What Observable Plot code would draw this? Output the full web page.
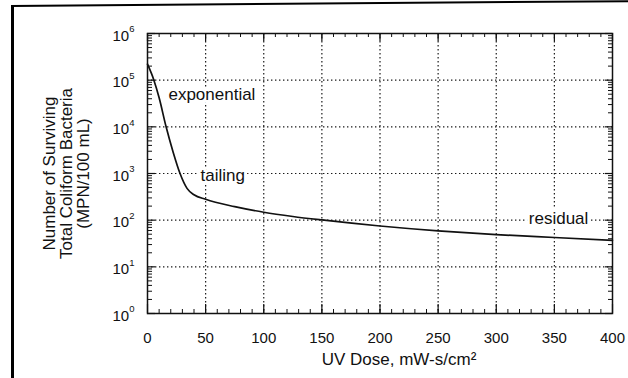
<!DOCTYPE html>
<html>
<head>
<meta charset="utf-8">
<script src="https://cdn.jsdelivr.net/npm/d3@7"></script>
<script src="https://cdn.jsdelivr.net/npm/@observablehq/plot@0.6"></script>
<style>
  body { margin: 0; background: #fff; }
  #wrap { position: relative; width: 628px; height: 378px; overflow: hidden; background: #fff; }
  #wrap svg { position: absolute; left: 0; top: 0; }
  .fl { position: absolute; left: 11px; top: 5px; width: 3px; height: 373px; background: #000; z-index: 2; }
  .ft { position: absolute; left: 11px; top: 5px; width: 620px; height: 2px; background: #000; z-index: 2;
        transform-origin: 0 0; transform: rotate(-0.45deg); }
</style>
</head>
<body>
<div id="wrap"><div class="fl"></div><div class="ft"></div></div>
<script>
// ---- data ----
const doses  = [0, 5.5, 10, 16, 22, 28, 34, 40, 50, 75, 100, 125, 150, 200, 250, 300, 350, 400];
const counts = [220000, 100000, 42000, 10000, 2900, 1000, 480, 350, 280, 195, 148, 120, 101, 75, 59, 49, 42.5, 37];

const xTicks = [0, 50, 100, 150, 200, 250, 300, 350, 400];
const yTicks = [1, 10, 100, 1000, 10000, 100000, 1000000];

const phaseLabels = ["exponential", "tailing", "residual"];
const labelDose   = [18, 45.6, 328];
const labelCount  = [48000, 885, 106];

const xTitle = "UV Dose, mW-s/cm\u00B2";
const yTitleLines = ["Number of Surviving", "Total Coliform Bacteria", "(MPN/100 mL)"];

// ---- derived tables ----
const curve = doses.map((d, i) => ({dose: d, count: counts[i]}));
const xMinor = d3.range(xTicks[0], xTicks[xTicks.length - 1] + 1, 10);
const yMinor = [];
yTicks.slice(0, -1).forEach(t => { for (let k = 2; k <= 9; k++) yMinor.push(t * k); });

const W = 628, H = 378, ML = 147, MR = 16, MT = 33, MB = 65;
const FW = W - ML - MR, FH = H - MT - MB;
const ink = "#111";
const gridStyle = {stroke: "#000", strokeWidth: 1.2, strokeDasharray: "1.4,2.6", strokeOpacity: 0.9};

const yTitleMarks = yTitleLines.map((line, i) =>
  Plot.text([line], {text: d => d, frameAnchor: "left", dx: -98 + 17 * i, rotate: -90,
    textAnchor: "middle", fontSize: 17, fill: ink}));

const chart = Plot.plot({
  width: W, height: H,
  marginLeft: ML, marginRight: MR, marginTop: MT, marginBottom: MB,
  style: {fontFamily: "'Liberation Sans', Arial, Helvetica, sans-serif", fontSize: "15px", color: ink, background: "transparent"},
  x: {domain: [0, 400], ticks: xTicks, tickSize: 0, tickPadding: 19, label: null},
  y: {type: "log", domain: [1, 1e6], ticks: yTicks, tickSize: 0, tickPadding: 13, label: null,
      tickFormat: d => "10^" + Math.round(Math.log10(d))},
  marks: [
    Plot.ruleX(xTicks.slice(1, -1), {x: d => d, ...gridStyle}),
    Plot.ruleY(yTicks.slice(1, -1), {y: d => d, ...gridStyle}),
    // inward ticks: bottom & top
    Plot.ruleX(xMinor, {x: d => d, insetTop: FH - 4, stroke: ink}),
    Plot.ruleX(xMinor, {x: d => d, insetBottom: FH - 4, stroke: ink}),
    Plot.ruleX(xTicks, {x: d => d, insetTop: FH - 9, stroke: ink, strokeWidth: 1.2}),
    Plot.ruleX(xTicks, {x: d => d, insetBottom: FH - 8, stroke: ink, strokeWidth: 1.2}),
    // inward ticks: left & right
    Plot.ruleY(yMinor, {y: d => d, insetRight: FW - 5, stroke: ink}),
    Plot.ruleY(yMinor, {y: d => d, insetLeft: FW - 4, stroke: ink}),
    Plot.ruleY(yTicks, {y: d => d, insetRight: FW - 8, stroke: ink, strokeWidth: 1.2}),
    Plot.ruleY(yTicks, {y: d => d, insetLeft: FW - 7, stroke: ink, strokeWidth: 1.2}),
    Plot.frame({stroke: ink, strokeWidth: 1.5}),
    Plot.line(curve, {x: "dose", y: "count", stroke: ink, strokeWidth: 1.7, curve: "monotone-x"}),
    Plot.text(phaseLabels, {x: (d, i) => labelDose[i], y: (d, i) => labelCount[i], text: d => d,
      textAnchor: "start", fontSize: 17, fill: ink, stroke: "white", strokeWidth: 6, paintOrder: "stroke"}),
    Plot.text([xTitle], {text: d => d, frameAnchor: "bottom", dx: 19, dy: 51, fontSize: 17, fill: ink}),
    ...yTitleMarks
  ]
});

// superscript exponents on the y tick labels
d3.select(chart).selectAll("text").each(function () {
  const m = /^10\^(\d)$/.exec(this.textContent);
  if (m) {
    this.textContent = "";
    const sel = d3.select(this);
    sel.append("tspan").attr("dy", 2.5).text("10");
    sel.append("tspan").attr("dy", -8.5).attr("font-size", 9.5).text(m[1]);
  }
});

document.getElementById("wrap").appendChild(chart);
</script>
</body>
</html>
